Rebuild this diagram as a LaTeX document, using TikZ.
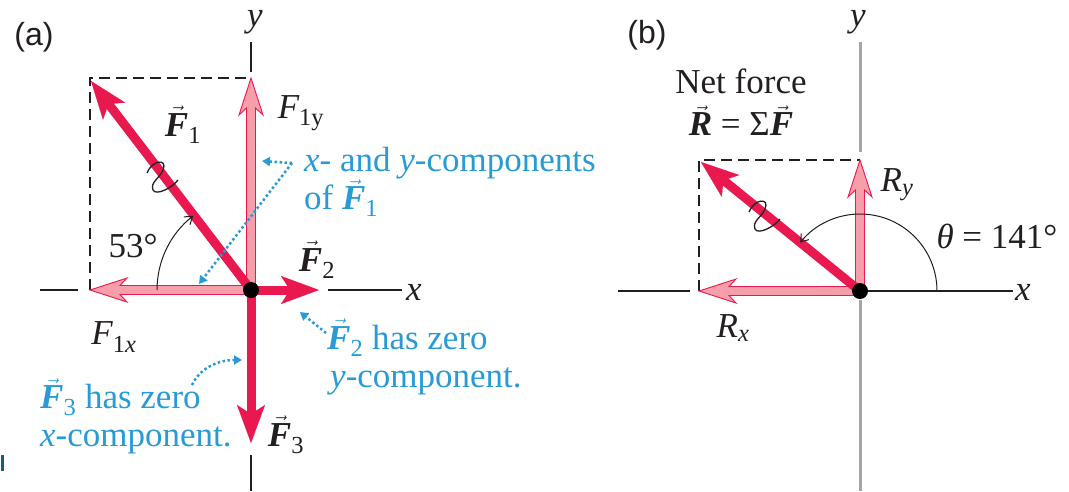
\documentclass[tikz,border=0pt]{standalone}
\usepackage{fontspec}
\setmainfont{Liberation Serif}
\setsansfont{Liberation Sans}
\usetikzlibrary{arrows.meta,calc}
\definecolor{vred}{RGB}{233,24,78}
\definecolor{vpink}{RGB}{246,158,170}
\definecolor{nblue}{RGB}{40,155,215}
\definecolor{ink}{RGB}{35,31,32}
\definecolor{axgray}{RGB}{165,165,165}
\newcommand\vb[1]{\ensuremath{\vec{\mbox{\bfseries\itshape #1}}}}
\tikzset{
  comp/.pic={\path[draw=vred, fill=vpink, line width=0.9pt, line join=miter]
    (0,-4.5) -- (#1-30,-4.5) -- (#1-37,-12) -- (#1,0) -- (#1-37,12) -- (#1-30,4.5) -- (0,4.5) -- cycle;},
  wiggle/.pic={\draw[draw=ink, line width=1.3pt]
    (-16,4) .. controls (-11,17) and (5,19) .. (0,7) .. controls (-3,-1) and (-13,-5) .. (-10,-13) .. controls (-7,-19) and (9,-11) .. (15,-3);}
}
\begin{document}
\begin{tikzpicture}[x=1pt,y=1pt,
  lbl/.style={inner sep=0pt, text=ink, font=\fontsize{35}{38}\selectfont},
  note/.style={inner sep=0pt, text=nblue, font=\fontsize{35}{38}\selectfont, anchor=west, align=left},
  axis/.style={draw=ink, line width=1.3pt},
  gaxis/.style={draw=axgray, line width=3pt},
  guide/.style={draw=ink, line width=1.3pt, dash pattern=on 11pt off 6pt},
  force/.style={draw=vred, line width=9pt, -{Stealth[length=38pt,width=28pt,inset=9pt,line width=0.1pt]}},
  pointer/.style={draw=nblue, line width=2.5pt, dash pattern=on 2.5pt off 2.5pt, -{Triangle[length=8pt,width=9pt]}},
  anglearc/.style={draw=ink, line width=1pt, -{Straight Barb[length=7pt,width=10pt]}}
]
\useasboundingbox[fill=white] (0,0) rectangle (1069,-491);

% ---------- panel (a) ----------
\coordinate (Oa) at (251,-290);
\coordinate (F1tip) at (91,-81);
\coordinate (F2tip) at (319,-290);
\coordinate (F3tip) at (251,-443);
\coordinate (ya1) at (251,-42);  \coordinate (ya2) at (251,-72);
\coordinate (ya3) at (251,-455); \coordinate (ya4) at (251,-491);
\coordinate (xa1) at (40,-290);  \coordinate (xa2) at (78,-290);
\coordinate (xa3) at (328,-290); \coordinate (xa4) at (402,-290);
\coordinate (ra1) at (90,-290);  \coordinate (ra2) at (90,-78); \coordinate (ra3) at (251,-78);

\draw[axis] (ya1) -- (ya2);
\draw[axis] (ya3) -- (ya4);
\draw[axis] (xa1) -- (xa2);
\draw[axis] (xa3) -- (xa4);
\draw[guide] (ra1) -- (ra2) -- (ra3);

\pic[rotate=180] at (Oa) {comp=161};
\pic[rotate=90] at (Oa) {comp=212};

\draw[force] (Oa) -- (F1tip);
\draw[force] (Oa) -- (F2tip);
\draw[force] (Oa) -- (F3tip);
\fill[black] (Oa) circle[radius=8];

\draw[anglearc] (Oa) ++(-94,0) arc[start angle=180, end angle=128, radius=94];
\pic at (163,-177) {wiggle};

\coordinate (pa) at (292,-163);
\coordinate (pb) at (262,-161);
\coordinate (pc) at (199,-284);
\draw[pointer] (pa) -- (pb);
\draw[pointer] (pa) -- (pc);
\coordinate (pd) at (326,-333);
\coordinate (pe) at (300,-312);
\draw[pointer] (pd) -- (pe);
\coordinate (pf) at (192,-385);
\coordinate (pg) at (242,-360);
\draw[pointer] (pf) .. controls (200,-368) and (218,-360) .. (pg);

\node[lbl, font=\sffamily\fontsize{32}{36}\selectfont] (la) at (34,-37) {(a)};
\node[lbl] (ya) at (255,-22) {\itshape y};
\node[lbl] (xa) at (414,-292) {\itshape x};
\node[lbl] (F1l) at (183,-125) {\vb{F}\textsubscript{1}};
\node[lbl] (F1yl) at (301,-113) {\itshape F\textsubscript{\upshape 1y}};
\node[lbl] (F2l) at (317,-260) {\vb{F}\textsubscript{2}};
\node[lbl] (F1xl) at (114,-337) {\itshape F\textsubscript{\upshape 1\itshape x}};
\node[lbl] (F3l) at (286,-435) {\vb{F}\textsubscript{3}};
\node[lbl] (ang) at (133,-246) {53°};
\node[note] (n1) at (304,-182) {\textit{x}- and \textit{y}-components\\of \vb{F}\textsubscript{1}};
\node[note] (n3) at (327,-357) {\vb{F}\textsubscript{2} has zero\\\hspace*{3pt}\textit{y}-component.};
\node[note] (n5) at (40,-416) {\vb{F}\textsubscript{3} has zero\\\textit{x}-component.};
\fill[nblue!60!black] (1,-455) rectangle (4,-471);

% ---------- panel (b) ----------
\coordinate (Ob) at (860,-291);
\coordinate (Rtip) at (701,-162);
\coordinate (yb1) at (860,-42);  \coordinate (yb2) at (860,-152);
\coordinate (yb3) at (860,-300); \coordinate (yb4) at (860,-491);
\coordinate (xb1) at (618,-291); \coordinate (xb2) at (690,-291);
\coordinate (xb3) at (1013,-291);
\coordinate (rb1) at (699,-291); \coordinate (rb2) at (699,-160); \coordinate (rb3) at (860,-160);

\draw[gaxis] (yb1) -- (yb2);
\draw[gaxis] (yb3) -- (yb4);
\draw[axis] (xb1) -- (xb2);
\draw[axis] (Ob) -- (xb3);
\draw[guide] (rb1) -- (rb2) -- (rb3);

\pic[rotate=180] at (Ob) {comp=161};
\pic[rotate=90] at (Ob) {comp=131};
\draw[force] (Ob) -- (Rtip);
\fill[black] (Ob) circle[radius=8];
\draw[anglearc] (Ob) ++(77,0) arc[start angle=0, end angle=141, radius=77];
\pic at (765,-216) {wiggle};

\node[lbl, font=\sffamily\fontsize{32}{36}\selectfont] (lb) at (647,-35) {(b)};
\node[lbl] (yb) at (858,-22) {\itshape y};
\node[lbl] (xb) at (1023,-292) {\itshape x};
\node[lbl, align=center, font=\fontsize{35}{42}\selectfont] (nf) at (741,-102) {Net force\\\vb{R} = Σ\vb{F}};
\node[lbl] (Ryl) at (897,-185) {\itshape R\textsubscript{y}};
\node[lbl] (Rxl) at (733,-328) {\itshape R\textsubscript{x}};
\node[lbl] (th) at (997,-236) {\textit{θ} = 141°};
\end{tikzpicture}
\end{document}
